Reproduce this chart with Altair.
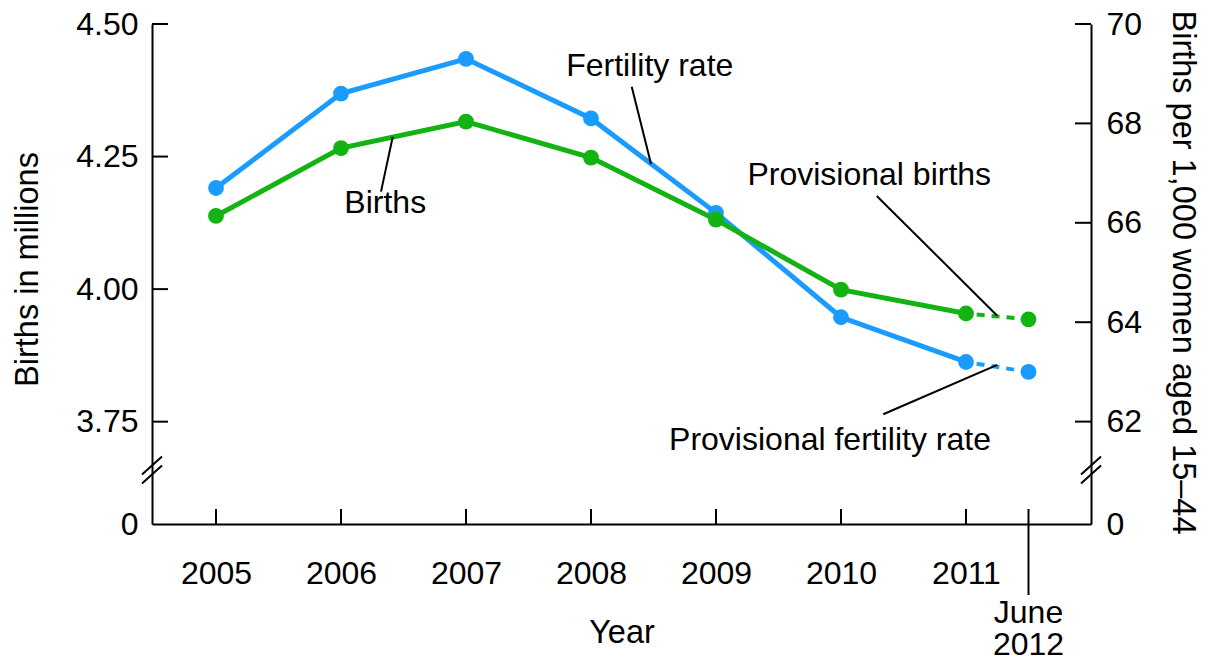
import altair as alt
import pandas as pd

# ---------------- data ----------------
years = [2005, 2006, 2007, 2008, 2009, 2010, 2011]
prov_year = 2011.5  # June 2012
births = [4.138, 4.266, 4.316, 4.248, 4.131, 3.999, 3.954]       # millions
prov_births = 3.943
fert = [66.7, 68.6, 69.3, 68.1, 66.2, 64.1, 63.2]                # per 1,000 women 15-44
prov_fert = 63.0

left_ticks = [3.75, 4.00, 4.25, 4.50]
right_ticks = [62, 64, 66, 68, 70]

ann_labels = ["Fertility rate", "Births", "Provisional births", "Provisional fertility rate"]
ann_x = [2008.470, 2006.354, 2010.226, 2009.912]
ann_y = [4.4019, 4.1442, 4.1964, 3.6967]

lead_x1 = [2008.326, 2006.320, 2010.286, 2010.338]
lead_y1 = [4.3818, 4.1838, 4.1757, 3.7640]
lead_x2 = [2008.480, 2006.414, 2011.250, 2011.250]
lead_y2 = [4.2360, 4.2875, 3.9499, 3.8570]

# ---------------- style ----------------
FONT = "Liberation Sans"
FS = 32
TFS = 32.5
BLUE = "#1a9bff"
GREEN = "#12b312"
W, H = 939, 500
X_DOM = [2004.488, 2012]
L_DOM = [3.557, 4.5]
R_DOM = [59.94, 70]
PX = (L_DOM[1] - L_DOM[0]) / H  # left-scale units per pixel

xs = alt.Scale(domain=X_DOM, nice=False, zero=False)
ls = alt.Scale(domain=L_DOM, nice=False, zero=False)
rs = alt.Scale(domain=R_DOM, nice=False, zero=False)


def X(field="year", axis=alt.Undefined):
    return alt.X(f"{field}:Q", scale=xs, axis=axis)


def YL(field, axis=alt.Undefined):
    return alt.Y(f"{field}:Q", scale=ls, axis=axis)


def YR(field, axis=alt.Undefined):
    return alt.Y(f"{field}:Q", scale=rs, axis=axis)


x_axis = alt.Axis(orient="bottom", values=years, format="d", title="Year",
                  labelPadding=34, titlePadding=27, labelFlush=False)
left_axis = alt.Axis(orient="left", values=[L_DOM[0]] + left_ticks,
                     labelExpr="datum.value < 3.6 ? '0' : format(datum.value, '.2f')",
                     title="Births in millions", labelPadding=14, titlePadding=31,
                     titleY=245)
right_axis = alt.Axis(orient="right", values=[R_DOM[0]] + right_ticks,
                      labelExpr="datum.value < 61 ? '0' : format(datum.value, 'd')",
                      title="Births per 1,000 women aged 15–44", labelPadding=15,
                      titlePadding=24, titleY=248)

# ---------------- tables ----------------
b_solid = pd.DataFrame({"year": years, "births": births})
b_dash = pd.DataFrame({"year": [years[-1], prov_year], "births": [births[-1], prov_births]})
b_pts = pd.DataFrame({"year": years + [prov_year], "births": births + [prov_births]})
f_solid = pd.DataFrame({"year": years, "fert": fert})
f_dash = pd.DataFrame({"year": [years[-1], prov_year], "fert": [fert[-1], prov_fert]})
f_pts = pd.DataFrame({"year": years + [prov_year], "fert": fert + [prov_fert]})

lt = pd.DataFrame({"v": left_ticks})
rt = pd.DataFrame({"v": right_ticks})
xt = pd.DataFrame({"year": years})
june = pd.DataFrame({"year": [prov_year], "label": ["June\n2012"]})
ann = pd.DataFrame({"label": ann_labels, "x": ann_x, "y": ann_y})
lead = pd.DataFrame({"x": lead_x1, "y": lead_y1, "x2": lead_x2, "y2": lead_y2})

brk = 3.659  # axis break position (left scale)
brk_df = pd.DataFrame({
    "y": [brk - 4.5 * PX - 9 * PX, brk + 4.5 * PX - 9 * PX],
    "y2": [brk - 4.5 * PX + 9 * PX, brk + 4.5 * PX + 9 * PX],
})

# ---------------- right group (fertility rate) ----------------
f_line = alt.Chart(f_solid).mark_line(color=BLUE, strokeWidth=5).encode(
    x=X(), y=YR("fert", right_axis))
f_dline = alt.Chart(f_dash).mark_line(color=BLUE, strokeWidth=4, strokeDash=[8, 7],
                                      strokeDashOffset=4.3).encode(x=X(), y=YR("fert"))
f_point = alt.Chart(f_pts).mark_circle(color=BLUE, size=250, opacity=1).encode(
    x=X(), y=YR("fert"))
r_tick = alt.Chart(rt).mark_rule(color="black", strokeWidth=2).encode(
    x=alt.value(W - 16), x2=alt.value(W), y=YR("v"))
right_group = alt.layer(f_line, f_dline, f_point, r_tick)

# ---------------- left group (births) ----------------
b_line = alt.Chart(b_solid).mark_line(color=GREEN, strokeWidth=5).encode(
    x=X("year", x_axis), y=YL("births", left_axis))
b_dline = alt.Chart(b_dash).mark_line(color=GREEN, strokeWidth=4, strokeDash=[8, 7],
                                      strokeDashOffset=4.3).encode(x=X(), y=YL("births"))
b_point = alt.Chart(b_pts).mark_circle(color=GREEN, size=250, opacity=1).encode(
    x=X(), y=YL("births"))
l_tick = alt.Chart(lt).mark_rule(color="black", strokeWidth=2).encode(
    x=alt.value(0), x2=alt.value(16), y=YL("v"))
x_tick = alt.Chart(xt).mark_rule(color="black", strokeWidth=2).encode(
    x=X(), y=alt.value(H), y2=alt.value(H - 15))
j_tick = alt.Chart(june).mark_rule(color="black", strokeWidth=2).encode(
    x=X(), y=alt.value(H - 15), y2=alt.value(H + 71))
j_text = alt.Chart(june).mark_text(font=FONT, fontSize=FS, color="black", align="center",
                                   baseline="top", lineBreak="\n", lineHeight=32).encode(
    x=X(), y=alt.value(H + 74), text="label:N")
a_text = alt.Chart(ann).mark_text(font=FONT, fontSize=FS, color="black", align="center",
                                  baseline="alphabetic").encode(
    x=X("x"), y=YL("y"), text="label:N")
a_lead = alt.Chart(lead).mark_rule(color="black", strokeWidth=2).encode(
    x=X("x"), x2="x2:Q", y=YL("y"), y2="y2:Q")
brk_l = alt.Chart(brk_df).mark_rule(color="black", strokeWidth=2).encode(
    x=alt.value(-10), x2=alt.value(10), y=YL("y"), y2="y2:Q")
brk_r = alt.Chart(brk_df).mark_rule(color="black", strokeWidth=2).encode(
    x=alt.value(W - 10), x2=alt.value(W + 10), y=YL("y"), y2="y2:Q")
left_group = alt.layer(b_line, b_dline, b_point, l_tick, x_tick, j_tick, j_text,
                       a_text, a_lead, brk_l, brk_r)

chart = alt.layer(right_group, left_group).resolve_scale(y="independent").properties(
    width=W, height=H,
    autosize=alt.AutoSizeParams(type="none"),
    padding={"left": 144, "top": 16, "right": 115, "bottom": 136},
    background="white",
).configure_view(stroke=None).configure_axis(
    labelFont=FONT, labelFontSize=FS, labelColor="black",
    titleFont=FONT, titleFontSize=TFS, titleFontWeight="normal", titleColor="black",
    domainColor="black", domainWidth=2, ticks=False, grid=False,
)

chart.save("out.html", embed_options={"renderer": "svg", "actions": False})
